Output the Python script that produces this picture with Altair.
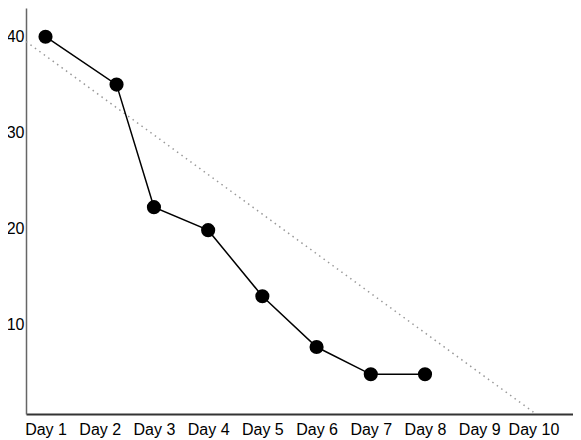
import altair as alt
import pandas as pd

# Actual remaining work
days = [1, 2.31, 3, 4, 5, 6, 7, 8]
remaining = [40, 35, 22.2, 19.8, 12.9, 7.6, 4.75, 4.75]

# Ideal (dotted) burndown
ideal_days = [0.64, 10]
ideal_remaining = [39.5, 0.8]

day_ticks = [1, 2, 3, 4, 5, 6, 7, 8, 9, 10]
day_labels = ["Day 1", "Day 2", "Day 3", "Day 4", "Day 5",
              "Day 6", "Day 7", "Day 8", "Day 9", "Day 10"]
y_ticks = [10, 20, 30, 40]

actual = pd.DataFrame({"day": days, "remaining": remaining})
ideal = pd.DataFrame({"day": ideal_days, "remaining": ideal_remaining})

label_array = "[" + ",".join("'%s'" % s for s in day_labels) + "]"

FONT = "Liberation Sans"

x_scale = alt.Scale(domain=[0.64, 10.73], nice=False, zero=False)
y_scale = alt.Scale(domain=[0.604, 43.0], nice=False, zero=False)

x_axis = alt.Axis(
    values=day_ticks,
    labelExpr=label_array + "[datum.value - 1]",
    title=None, grid=False, ticks=False, tickSize=0,
    domainColor="#333333", domainWidth=2,
    labelFont=FONT, labelFontSize=16, labelColor="#000000",
    labelPadding=7, labelFlush=False, labelOverlap=False,
)
y_axis = alt.Axis(
    values=y_ticks, title=None, grid=False, ticks=False, tickSize=0,
    domainColor="#666666", domainWidth=1.5,
    labelFont=FONT, labelFontSize=16, labelColor="#000000",
    labelPadding=2, labelFlush=False, labelOverlap=False,
)

ideal_line = alt.Chart(ideal).mark_line(
    color="#999999", strokeWidth=1.5, strokeDash=[1.5, 4]
).encode(
    x=alt.X("day:Q", scale=x_scale, axis=x_axis),
    y=alt.Y("remaining:Q", scale=y_scale, axis=y_axis),
)

actual_line = alt.Chart(actual).mark_line(
    color="#000000", strokeWidth=1.5
).encode(
    x=alt.X("day:Q", scale=x_scale),
    y=alt.Y("remaining:Q", scale=y_scale),
)

points = alt.Chart(actual).mark_point(
    filled=True, color="#000000", size=200, opacity=1
).encode(
    x=alt.X("day:Q", scale=x_scale),
    y=alt.Y("remaining:Q", scale=y_scale),
)

chart = alt.layer(ideal_line, actual_line, points).properties(
    width=547,
    height=406,
    autosize=alt.AutoSizeParams(type="none"),
    padding={"left": 18, "top": 0, "right": 0, "bottom": 26},
    background="#ffffff",
).configure_view(stroke=None)

chart.save("out.html", embed_options={"renderer": "svg", "actions": False})
